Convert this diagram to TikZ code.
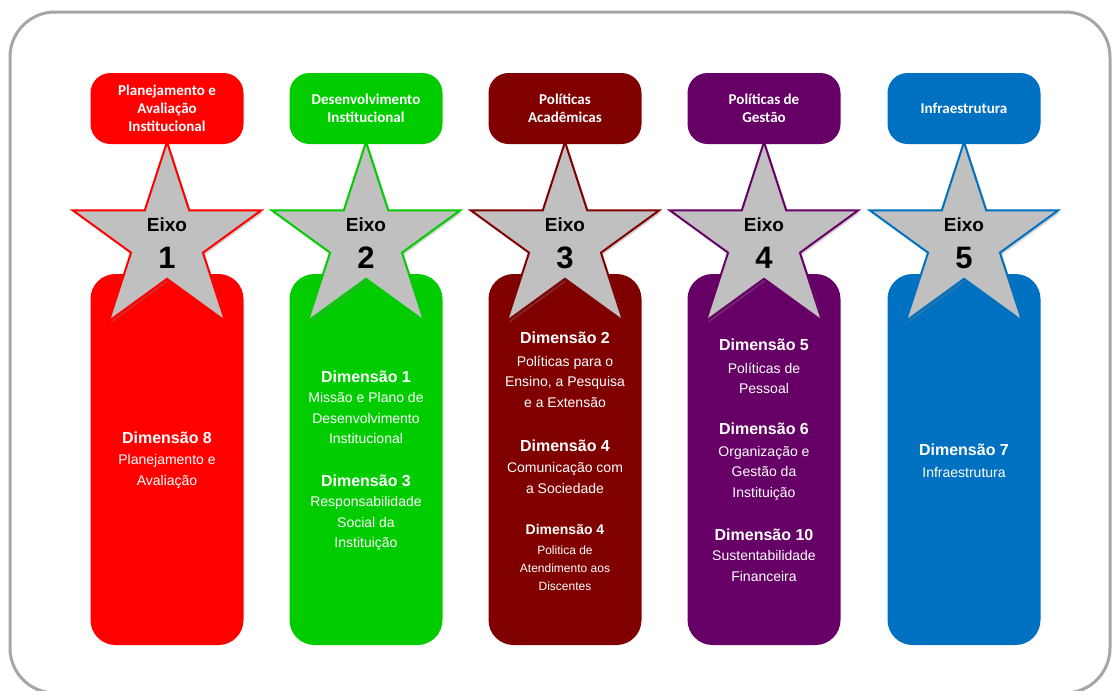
\documentclass[tikz,border=0pt]{standalone}
\usepackage{fontspec}
\setmainfont{Liberation Sans}
\newfontfamily\hdrfont{Carlito}
\usetikzlibrary{shapes.geometric,shadows}
\definecolor{cred}{HTML}{FF0000}
\definecolor{cgreen}{HTML}{00CC00}
\definecolor{cmaroon}{HTML}{800000}
\definecolor{cpurple}{HTML}{660066}
\definecolor{cblue}{HTML}{0070C0}
\definecolor{starfill}{HTML}{C0C0C0}
\definecolor{framecol}{HTML}{A6A6A6}
\begin{document}
\begin{tikzpicture}[x=1pt,y=-1pt,
  hbox/.style={draw=none,rounded corners=20pt,minimum width=153pt,minimum height=71pt,
    inner sep=0pt,text=white,align=center,font=\hdrfont\bfseries\fontsize{15}{18}\selectfont},
  lbox/.style={draw=none,rounded corners=25pt,minimum width=153pt,minimum height=371pt,inner sep=0pt},
  starnode/.style={star,star points=5,star point ratio=2.618,minimum size=198pt,inner sep=0pt,
    fill=starfill,line width=2pt,
    drop shadow={opacity=0.35,shadow xshift=2pt,shadow yshift=-2pt}},
  startext/.style={align=center,text=black,inner sep=0pt,font=\bfseries},
  dimtext/.style={align=center,text=white,inner sep=0pt,font=\fontsize{14}{20.5}\selectfont},
  dimsmall/.style={align=center,text=white,inner sep=0pt,font=\fontsize{12}{18}\selectfont},
  framebox/.style={draw=framecol,line width=3pt,rounded corners=45pt}
]
\useasboundingbox (0,0) rectangle (1112,691);
\fill[white] (0,0) rectangle (1112,691);
\node[framebox,minimum width=1100pt,minimum height=681pt,inner sep=0pt] (frame) at (560,352.5) {};

% lower boxes
\node[lbox,fill=cred]    (b1) at (167,459.5) {};
\node[lbox,fill=cgreen]  (b2) at (366,459.5) {};
\node[lbox,fill=cmaroon] (b3) at (565,459.5) {};
\node[lbox,fill=cpurple] (b4) at (764,459.5) {};
\node[lbox,fill=cblue]   (b5) at (964,459.5) {};

% headers
\node[hbox,fill=cred]    (h1) at (167,108.5) {Planejamento e\\Avaliação\\Institucional};
\node[hbox,fill=cgreen]  (h2) at (366,108.5) {Desenvolvimento\\Institucional};
\node[hbox,fill=cmaroon] (h3) at (565,108.5) {Políticas\\Acadêmicas};
\node[hbox,fill=cpurple] (h4) at (764,108.5) {Políticas de\\Gestão};
\node[hbox,fill=cblue]   (h5) at (964,108.5) {Infraestrutura};

% stars
\node[starnode,draw=cred]    (s1) at (167,241) {};
\node[starnode,draw=cgreen]  (s2) at (366,241) {};
\node[starnode,draw=cmaroon] (s3) at (565,241) {};
\node[starnode,draw=cpurple] (s4) at (764,241) {};
\node[starnode,draw=cblue]   (s5) at (964,241) {};

\foreach \i/\xx in {1/167,2/366,3/565,4/764,5/964}{
  \node[startext,font=\bfseries\fontsize{19}{22}\selectfont] (e\i) at (\xx,225) {Eixo};
  \node[startext,font=\bfseries\fontsize{31}{31}\selectfont] (n\i) at (\xx,258) {\i};
}

% dimension texts
\node[dimtext] (d1) at (167,460) {{\bfseries\fontsize{16}{20.5}\selectfont Dimensão 8}\\[1pt]Planejamento e\\Avaliação};

\node[dimtext] (d2a) at (366,407.5) {{\bfseries\fontsize{16}{20.5}\selectfont Dimensão 1}\\Missão e Plano de\\Desenvolvimento\\Institucional};
\node[dimtext] (d2b) at (366,512.5) {{\bfseries\fontsize{16}{20.5}\selectfont Dimensão 3}\\Responsabilidade\\Social da\\Instituição};

\node[dimtext] (d3a) at (565,370) {{\bfseries\fontsize{16}{20.5}\selectfont Dimensão 2}\\[2pt]Políticas para o\\Ensino, a Pesquisa\\e a Extensão};
\node[dimtext] (d3b) at (565,466.5) {{\bfseries\fontsize{16}{20.5}\selectfont Dimensão 4}\\[1pt]Comunicação com\\a Sociedade};
\node[dimsmall] (d3c) at (565,557.5) {{\bfseries\fontsize{14}{18}\selectfont Dimensão 4}\\[2pt]Politica de\\Atendimento aos\\Discentes};

\node[dimtext] (d4a) at (764,366.5) {{\bfseries\fontsize{16}{20.5}\selectfont Dimensão 5}\\[2pt]Políticas de\\Pessoal};
\node[dimtext] (d4b) at (764,461.5) {{\bfseries\fontsize{16}{20.5}\selectfont Dimensão 6}\\[1pt]Organização e\\Gestão da\\Instituição};
\node[dimtext] (d4c) at (764,555) {{\bfseries\fontsize{16}{20.5}\selectfont Dimensão 10}\\Sustentabilidade\\Financeira};

\node[dimtext] (d5) at (964,461) {{\bfseries\fontsize{16}{20.5}\selectfont Dimensão 7}\\[1pt]Infraestrutura};
\end{tikzpicture}
\end{document}
